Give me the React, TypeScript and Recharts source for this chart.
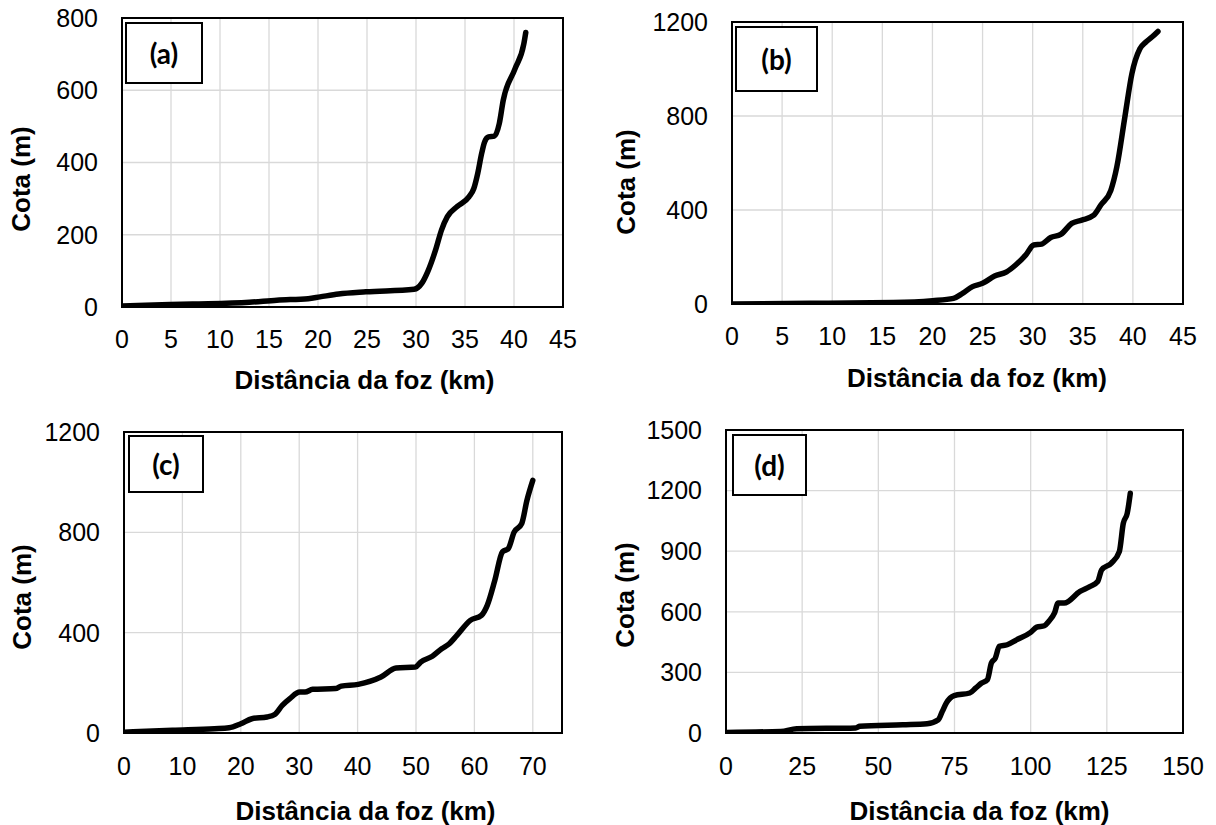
import React from 'react';
import { LineChart, Line, XAxis, YAxis, CartesianGrid } from 'recharts';

// ---- Data ----
const distA = [0, 2.4, 7.2, 13, 15.8, 19, 20.2, 22.1, 24.9, 29.8, 30.6, 31.2, 32, 32.6, 33.2, 34.2, 35.4, 35.9, 36.3, 36.7, 37, 37.4, 38, 38.5, 38.9, 40.1, 41, 41.2];
const cotaA = [3, 5, 8, 13, 19, 23, 28, 36, 42, 49, 66, 98, 158, 213, 250, 278, 305, 328, 370, 425, 457, 471, 473, 508, 572, 659, 728, 760];

const distB = [0, 7.8, 16.1, 20, 22.1, 23, 24, 25, 26.2, 27.4, 28.3, 29.3, 30.1, 30.9, 31.8, 32.8, 33.9, 34.9, 36.1, 36.8, 37.8, 38.4, 39.2, 39.9, 40.7, 41.3, 41.9, 42.5];
const cotaB = [0, 3, 6, 14, 24, 45, 74, 88, 119, 137, 166, 208, 251, 255, 283, 296, 343, 357, 378, 421, 484, 584, 796, 980, 1086, 1115, 1136, 1160];

const distC = [0, 8.3, 15.5, 18, 20, 21.9, 24.5, 25.8, 27.1, 28.4, 30.1, 31, 32.3, 36.2, 37.2, 40.1, 44, 46.6, 49.9, 50.8, 52.8, 54.4, 55.7, 57, 59.3, 61.2, 62.2, 63.5, 64.8, 65.8, 66.8, 68.1, 69, 70];
const cotaC = [3, 11, 17, 21, 37, 57, 64, 74, 110, 137, 163, 163, 174, 177, 187, 194, 223, 259, 263, 283, 306, 336, 356, 389, 449, 469, 509, 609, 722, 735, 801, 835, 928, 1007];

const distD = [0, 18, 23.2, 42.6, 43.9, 58, 66, 69.7, 71, 72.3, 74.9, 80, 82, 83.9, 85.8, 87.1, 88.4, 89.7, 92.3, 95.5, 100, 102, 104.5, 105.9, 107.8, 109, 111, 116.2, 119.4, 122, 123.3, 126.5, 129.1, 130.4, 131.7, 132.7];
const cotaD = [3, 8, 21, 25, 33, 41, 46, 66, 107, 148, 185, 198, 223, 247, 264, 346, 371, 429, 437, 462, 498, 524, 531, 552, 593, 643, 643, 701, 725, 750, 808, 841, 898, 1038, 1088, 1187];

const xTicksA = [0, 5, 10, 15, 20, 25, 30, 35, 40, 45];
const yTicksA = [0, 200, 400, 600, 800];
const xTicksB = [0, 5, 10, 15, 20, 25, 30, 35, 40, 45];
const yTicksB = [0, 400, 800, 1200];
const xTicksC = [0, 10, 20, 30, 40, 50, 60, 70];
const yTicksC = [0, 400, 800, 1200];
const xTicksD = [0, 25, 50, 75, 100, 125, 150];
const yTicksD = [0, 300, 600, 900, 1200, 1500];

const panelLetters = ['(a)', '(b)', '(c)', '(d)'];
const xTitle = 'Distância da foz (km)';
const yTitle = 'Cota (m)';

const toData = (xs: number[], ys: number[]) => xs.map((x, i) => ({ x, y: ys[i] }));

const FONT = '"Liberation Sans", Arial, sans-serif';

type Panel = {
  data: { x: number; y: number }[];
  xDomain: [number, number];
  yDomain: [number, number];
  xTicks: number[];
  yTicks: number[];
  letter: string;
  left: number;
  top: number;
  width: number;
  height: number;
  mTop: number;
  mRight: number;
  yAxisWidth: number;
  xAxisHeight: number;
  xTickMargin: number;
  box: [number, number, number, number];
  xTitleX: number;
  xTitleY: number;
  yTitleCx: number;
  yTitleCy: number;
};

const panels: Panel[] = [
  {
    data: toData(distA, cotaA), xDomain: [0, 45], yDomain: [0, 800], xTicks: xTicksA, yTicks: yTicksA, letter: panelLetters[0],
    left: 0, top: 0, width: 608, height: 412, mTop: 18, mRight: 45, yAxisWidth: 122, xAxisHeight: 105, xTickMargin: 23,
    box: [4, 5, 76, 60], xTitleX: 364.5, xTitleY: 388.8, yTitleCx: 21, yTitleCy: 179,
  },
  {
    data: toData(distB, cotaB), xDomain: [0, 45], yDomain: [0, 1200], xTicks: xTicksB, yTicks: yTicksB, letter: panelLetters[1],
    left: 608, top: 0, width: 608, height: 412, mTop: 22, mRight: 33, yAxisWidth: 124, xAxisHeight: 108, xTickMargin: 23,
    box: [4, 5, 81, 64], xTitleX: 369, xTitleY: 387, yTitleCx: 18, yTitleCy: 182,
  },
  {
    data: toData(distC, cotaC), xDomain: [0, 75], yDomain: [0, 1200], xTicks: xTicksC, yTicks: yTicksC, letter: panelLetters[2],
    left: 0, top: 412, width: 608, height: 413, mTop: 20, mRight: 46, yAxisWidth: 124, xAxisHeight: 92, xTickMargin: 24,
    box: [5, 4, 74, 56], xTitleX: 365.5, xTitleY: 408.3, yTitleCx: 22, yTitleCy: 185,
  },
  {
    data: toData(distD, cotaD), xDomain: [0, 150], yDomain: [0, 1500], xTicks: xTicksD, yTicks: yTicksD, letter: panelLetters[3],
    left: 608, top: 412, width: 608, height: 413, mTop: 18, mRight: 33, yAxisWidth: 118, xAxisHeight: 92, xTickMargin: 24,
    box: [7, 5, 73, 60], xTitleX: 371.5, xTitleY: 408.3, yTitleCx: 17, yTitleCy: 183,
  },
];

const TITLE_SIZE = 26;
const TICK_SIZE = 25;

function PanelChart({ p }: { p: Panel }) {
  const L = p.yAxisWidth;
  const T = p.mTop;
  const plotW = p.width - p.mRight - L;
  const plotH = p.height - T - p.xAxisHeight;
  const xLabel = () => (
    <g>
      <rect x={L} y={T} width={plotW} height={plotH} fill="none" stroke="#000" strokeWidth={2} />
      <text
        x={p.xTitleX}
        y={p.xTitleY}
        textAnchor="middle"
        fontFamily={FONT}
        fontWeight="bold"
        fontSize={TITLE_SIZE}
        fill="#000"
      >
        {xTitle}
      </text>
    </g>
  );
  const yLabel = () => {
    const bx = p.yTitleCx + 0.358 * TITLE_SIZE;
    const [dx, dy, w, h] = p.box;
    return (
      <g>
        <text
          x={bx}
          y={p.yTitleCy}
          transform={`rotate(-90, ${bx}, ${p.yTitleCy})`}
          textAnchor="middle"
          fontFamily={FONT}
          fontWeight="bold"
          fontSize={TITLE_SIZE}
          fill="#000"
        >
          {yTitle}
        </text>
        <rect x={L + dx} y={T + dy} width={w} height={h} fill="#fff" stroke="#000" strokeWidth={2} />
        <text
          x={L + dx + w / 2}
          y={T + dy + h / 2}
          textAnchor="middle"
          dominantBaseline="central"
          fontFamily='Lato, "Open Sans", sans-serif'
          fontWeight="bold"
          fontSize={28}
          fill="#000"
        >
          {p.letter}
        </text>
      </g>
    );
  };
  return (
    <div style={{ position: 'absolute', left: p.left, top: p.top, width: p.width, height: p.height }}>
      <LineChart
        width={p.width}
        height={p.height}
        data={p.data}
        margin={{ top: p.mTop, right: p.mRight, left: 0, bottom: 0 }}
      >
        <CartesianGrid stroke="#d9d9d9" strokeWidth={1.3} />
        <XAxis
          type="number"
          dataKey="x"
          domain={p.xDomain}
          ticks={p.xTicks}
          interval={0}
          allowDataOverflow
          height={p.xAxisHeight}
          axisLine={false}
          tickLine={false}
          tickSize={0}
          tickMargin={p.xTickMargin}
          tick={{ fontSize: TICK_SIZE, fill: '#000', fontFamily: FONT }}
          label={{ content: xLabel }}
        />
        <YAxis
          type="number"
          domain={p.yDomain}
          ticks={p.yTicks}
          interval={0}
          allowDataOverflow
          width={p.yAxisWidth}
          axisLine={false}
          tickLine={false}
          tickSize={0}
          tickMargin={24}
          tick={{ fontSize: TICK_SIZE, fill: '#000', fontFamily: FONT }}
          label={{ content: yLabel }}
        />
        <Line
          type="monotone"
          dataKey="y"
          stroke="#000"
          strokeWidth={5.5}
          dot={false}
          activeDot={false}
          isAnimationActive={false}
          strokeLinecap="round"
          strokeLinejoin="round"
        />
      </LineChart>
    </div>
  );
}

export default function App() {
  return (
    <div style={{ position: 'absolute', left: 0, top: 0, width: 1216, height: 825, background: '#fff' }}>
      {panels.map((p, i) => (
        <PanelChart key={i} p={p} />
      ))}
    </div>
  );
}
